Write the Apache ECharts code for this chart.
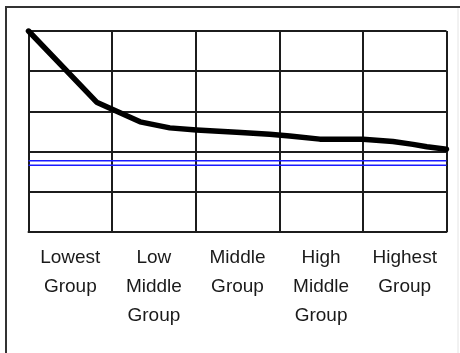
<!DOCTYPE html>
<html>
<head>
<meta charset="utf-8">
<script src="https://cdn.jsdelivr.net/npm/echarts@6/dist/echarts.min.js"></script>
<style>
html,body{margin:0;padding:0;background:#fff;}
#chart{width:460px;height:353px;}
</style>
</head>
<body>
<div id="chart"></div>
<script>
// Category labels (x axis)
const categories = ['Lowest\nGroup', 'Low\nMiddle\nGroup', 'Middle\nGroup', 'High\nMiddle\nGroup', 'Highest\nGroup'];
// Main black curve: [position along axis (0-100), value]
const curveX = [0, 16.3, 19.5, 26.7, 33.8, 40.2, 49.8, 57.7, 62.5, 69.7, 80.0, 87.2, 92.0, 95.3, 100];
const curveY = [5.0, 3.23, 3.08, 2.74, 2.59, 2.54, 2.48, 2.43, 2.39, 2.31, 2.31, 2.25, 2.18, 2.12, 2.06];
// Two horizontal blue reference lines
const blueLevels = [1.77, 1.66];
const xRange = [0, 100];
const yTicks = [0, 1, 2, 3, 4, 5];

const gridColor = '#1c1c1c';
const chart = echarts.init(document.getElementById('chart'), null, {renderer: 'canvas'});

const series = [];
blueLevels.forEach(function (lv) {
  series.push({
    type: 'line', xAxisIndex: 0, yAxisIndex: 0,
    data: [[xRange[0], lv], [xRange[1], lv]],
    symbol: 'none', silent: true,
    lineStyle: {color: '#1a1aff', width: 1.5}
  });
});
series.push({
  type: 'line', xAxisIndex: 0, yAxisIndex: 0,
  data: curveX.map(function (x, i) { return [x, curveY[i]]; }),
  symbol: 'none', silent: true,
  lineStyle: {color: '#000', width: 5.5, join: 'round', cap: 'round'}
});

chart.setOption({
  animation: false,
  backgroundColor: '#fff',
  grid: {left: 28.5, top: 31, width: 418, height: 201, containLabel: false},
  graphic: [
    {type: 'rect', shape: {x: 6, y: 7, width: 470, height: 360}, style: {fill: 'none', stroke: '#333', lineWidth: 2}, z: 100},
    {type: 'line', shape: {x1: 458, y1: 8, x2: 458, y2: 353}, style: {stroke: '#e4e4e4', lineWidth: 1}, z: 100}
  ],
  xAxis: [
    {
      type: 'value', min: xRange[0], max: xRange[1], interval: 20, position: 'bottom',
      axisLine: {show: true, onZero: false, lineStyle: {color: gridColor, width: 2}},
      axisTick: {show: false}, axisLabel: {show: false},
      splitLine: {show: true, lineStyle: {color: gridColor, width: 2}}
    },
    {
      type: 'category', data: categories, boundaryGap: true, position: 'bottom',
      axisLine: {show: false}, axisTick: {show: false}, splitLine: {show: false},
      axisLabel: {
        show: true, interval: 0, margin: 11,
        fontFamily: '"Liberation Sans Narrow", "Liberation Sans", Arial, sans-serif',
        fontSize: 19, lineHeight: 29, color: '#1a1a1a', align: 'center'
      }
    }
  ],
  yAxis: {
    type: 'value', min: yTicks[0], max: yTicks[yTicks.length - 1], interval: 1,
    axisLine: {show: true, lineStyle: {color: gridColor, width: 2}},
    axisTick: {show: false}, axisLabel: {show: false},
    splitLine: {show: true, lineStyle: {color: gridColor, width: 2}}
  },
  series: series
});
</script>
</body>
</html>
